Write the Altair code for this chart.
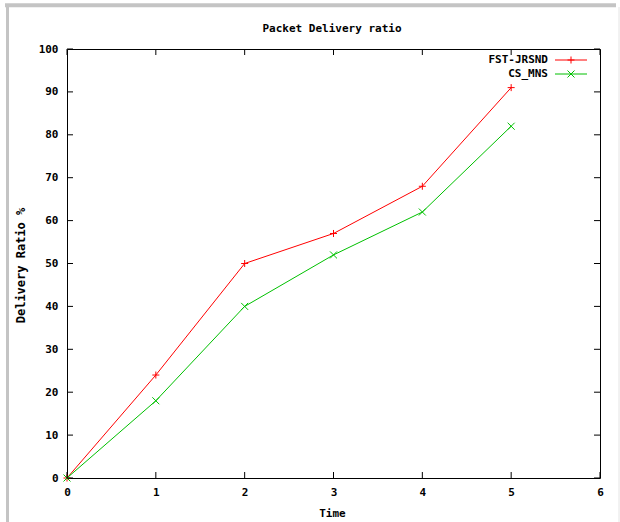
import altair as alt
import pandas as pd

# ---- data ----
time = [0, 1, 2, 3, 4, 5]
fst_jrsnd = [0, 24, 50, 57, 68, 91]
cs_mns = [0, 18, 40, 52, 62, 82]
series_names = ["FST-JRSND", "CS_MNS"]
series_colors = ["#ff0000", "#00c000"]
x_ticks = [0, 1, 2, 3, 4, 5, 6]
y_ticks = [0, 10, 20, 30, 40, 50, 60, 70, 80, 90, 100]
chart_title = "Packet Delivery ratio"
x_title = "Time"
y_title = "Delivery Ratio %"

df = pd.DataFrame({
    "Time": time + time,
    "Ratio": fst_jrsnd + cs_mns,
    "Series": [series_names[0]] * len(time) + [series_names[1]] * len(time),
})
xt_df = pd.DataFrame({"Time": x_ticks})
yt_df = pd.DataFrame({"Ratio": y_ticks})

W, H = 533, 429
FONT = "DejaVu Sans Mono"
PLUS = "M-1,0L1,0M0,-1L0,1"
CROSS = "M-1,-1L1,1M-1,1L1,-1"
shapes = [PLUS, CROSS]

xscale = alt.Scale(domain=[0, 6], nice=False, zero=False)
yscale = alt.Scale(domain=[0, 100], nice=False, zero=False)

x_axis = alt.Axis(
    values=x_ticks, title=x_title, labelPadding=14, labelBaseline="middle",
    labelFlush=False, labelOverlap=False,
    titleX=265, titleY=35, titleBaseline="middle", titleAlign="center")
y_axis = alt.Axis(
    values=y_ticks, title=y_title, labelPadding=9, labelAlign="right",
    labelBaseline="middle", labelFlush=False, labelOverlap=False,
    titleX=-46.5, titleY=216, titleAngle=270, titleBaseline="middle",
    titleAlign="center", titleFontSize=12)

x_enc = alt.X("Time:Q", scale=xscale, axis=x_axis)
y_enc = alt.Y("Ratio:Q", scale=yscale, axis=y_axis)

color = alt.Color("Series:N", scale=alt.Scale(domain=series_names, range=series_colors), legend=None)
shape = alt.Shape("Series:N", scale=alt.Scale(domain=series_names, range=shapes), legend=None)

base = alt.Chart(df)
lines = base.mark_line(strokeWidth=1).encode(x=x_enc, y=y_enc, color=color)
points = base.mark_point(filled=False, size=49, strokeWidth=1, opacity=1).encode(
    x=x_enc, y=y_enc, color=color, shape=shape)

# inward ticks on all four sides (gnuplot style)
tick_bottom = alt.Chart(xt_df).mark_rule(color="black", strokeWidth=1).encode(
    x=x_enc, y=alt.value(H), y2=alt.value(H - 6))
tick_top = alt.Chart(xt_df).mark_rule(color="black", strokeWidth=1).encode(
    x=x_enc, y=alt.value(0), y2=alt.value(6))
tick_left = alt.Chart(yt_df).mark_rule(color="black", strokeWidth=1).encode(
    y=y_enc, x=alt.value(0), x2=alt.value(6))
tick_right = alt.Chart(yt_df).mark_rule(color="black", strokeWidth=1).encode(
    y=y_enc, x=alt.value(W), x2=alt.value(W - 6))

# title
title_layer = alt.Chart(pd.DataFrame({"t": [chart_title]})).mark_text(
    font=FONT, fontSize=11, fontWeight="bold", color="black",
    align="center", baseline="middle").encode(
    text="t:N", x=alt.value(265), y=alt.value(-20))

# legend (gnuplot style: label then sample)
legend_layers = []
for i, name in enumerate(series_names):
    ly = 11 + 14 * i
    ldf = pd.DataFrame({"label": [name]})
    legend_layers.append(alt.Chart(ldf).mark_text(
        font=FONT, fontSize=11, fontWeight="bold", color="black",
        align="right", baseline="middle").encode(
        text="label:N", x=alt.value(481), y=alt.value(ly)))
    legend_layers.append(alt.Chart(ldf).mark_rule(
        color=series_colors[i], strokeWidth=1).encode(
        x=alt.value(488), x2=alt.value(520), y=alt.value(ly)))
    legend_layers.append(alt.Chart(ldf).mark_point(
        shape=shapes[i], color=series_colors[i], filled=False, size=49,
        strokeWidth=1, opacity=1).encode(x=alt.value(504), y=alt.value(ly)))

# grey window frame of the screenshot
fr = pd.DataFrame({"f": [0]})
frame_top = alt.Chart(fr).mark_rule(color="#c4c4c4", strokeWidth=4).encode(
    x=alt.value(-62), x2=alt.value(549), y=alt.value(-43.7))
frame_left = alt.Chart(fr).mark_rule(color="#c4c4c4", strokeWidth=3).encode(
    x=alt.value(-59.5), y=alt.value(-45), y2=alt.value(473))
frame_right = alt.Chart(fr).mark_rule(color="#e4e4e4", strokeWidth=1).encode(
    x=alt.value(552), y=alt.value(-42), y2=alt.value(473))

chart = alt.layer(
    lines, points,
    tick_bottom, tick_top, tick_left, tick_right,
    frame_top, frame_left, frame_right,
    title_layer, *legend_layers
).properties(
    width=W, height=H,
    padding={"left": 67, "top": 49, "right": 20, "bottom": 44},
    autosize=alt.AutoSizeParams(type="none"),
    background="white",
).configure_view(
    stroke="black", strokeWidth=1
).configure_axis(
    domain=False, ticks=False, grid=False,
    labelFont=FONT, labelFontSize=11, labelFontWeight="bold", labelColor="black",
    titleFont=FONT, titleFontSize=11, titleFontWeight="bold", titleColor="black",
)

chart.save("out.html", embed_options={"renderer": "svg", "actions": False})
